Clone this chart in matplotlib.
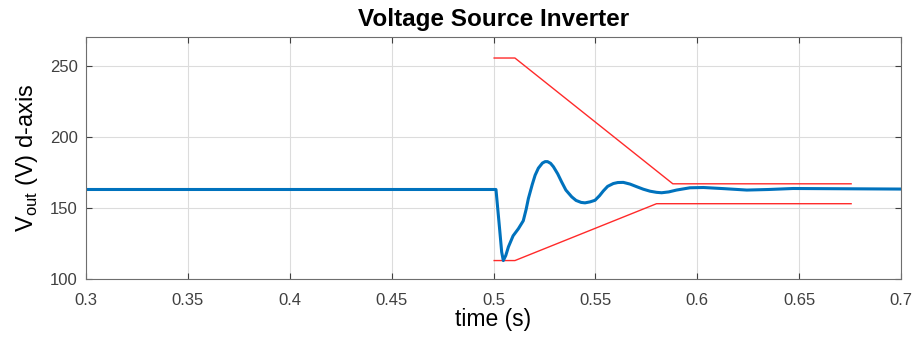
import matplotlib
matplotlib.use("Agg")
import matplotlib.pyplot as plt

plt.rcParams['font.family'] = ['Liberation Sans', 'DejaVu Sans']

t_vout = [0.300, 0.5012, 0.5030, 0.5040, 0.5048, 0.5060, 0.5073, 0.5096, 0.5122,
          0.5146, 0.5160, 0.5171, 0.5190, 0.5204, 0.5220, 0.5240, 0.5253, 0.5265,
          0.5280, 0.5294, 0.5315, 0.5334, 0.5355, 0.5384, 0.5405, 0.5430, 0.5449,
          0.5474, 0.5498, 0.5520, 0.5539, 0.5560, 0.5588, 0.5610, 0.5637, 0.5670,
          0.5702, 0.5735, 0.5768, 0.5800, 0.5825, 0.5860, 0.5898, 0.5964, 0.6030,
          0.6130, 0.6243, 0.6350, 0.6470, 0.7000]
v_vout = [163.0, 163.0, 135.0, 119.0, 113.0, 116.5, 122.6, 130.4, 135.4,
          141.0, 149.0, 156.6, 166.5, 173.0, 178.0, 181.6, 182.6, 182.6,
          181.4, 179.0, 174.0, 168.4, 162.6, 157.8, 155.3, 153.9, 153.6,
          154.3, 155.4, 158.6, 162.0, 165.2, 167.2, 167.9, 168.0, 166.8,
          165.0, 163.2, 161.8, 161.0, 160.7, 161.3, 162.6, 164.2, 164.4,
          163.6, 162.6, 163.0, 163.7, 163.3]

# upper / lower envelope limits
t_upper = [0.5003, 0.5105, 0.5880, 0.6755]
v_upper = [255.5, 255.5, 167.0, 167.0]
t_lower = [0.5003, 0.5105, 0.5800, 0.6755]
v_lower = [113.0, 113.0, 153.0, 153.0]

xticks = [0.3, 0.35, 0.4, 0.45, 0.5, 0.55, 0.6, 0.65, 0.7]
xticklabels = ["0.3", "0.35", "0.4", "0.45", "0.5", "0.55", "0.6", "0.65", "0.7"]
yticks = [100, 150, 200, 250]

fig = plt.figure(figsize=(9.17, 3.37), dpi=100)
ax = fig.add_axes([0.0938, 0.172, 0.8888, 0.717])

ax.plot(t_upper, v_upper, color="#ff2a2a", lw=1.0)
ax.plot(t_lower, v_lower, color="#ff2a2a", lw=1.0)
ax.plot(t_vout, v_vout, color="#0072bd", lw=2.2, solid_joinstyle="round")

ax.set_xlim(0.3, 0.7)
ax.set_ylim(100, 270)
ax.set_xticks(xticks)
ax.set_xticklabels(xticklabels)
ax.set_yticks(yticks)
ax.grid(True, color="#dcdcdc", lw=0.8)
ax.set_axisbelow(True)
ax.tick_params(direction="in", top=True, right=True, length=4, width=0.8,
               colors="#404040", labelsize=12)
ax.tick_params(axis="x", pad=10)
ax.tick_params(axis="y", pad=6)
for s in ax.spines.values():
    s.set_color("#6e6e6e")
    s.set_linewidth(0.8)

ax.set_title("Voltage Source Inverter", fontsize=17.5, fontweight="bold", pad=8)
ax.set_xlabel("time (s)", fontsize=16.5, labelpad=0)
ax.set_ylabel(r"V$_{\mathregular{out}}$ (V) d-axis", fontsize=17, labelpad=7)

fig.savefig("out.png", dpi=100, facecolor="white")
